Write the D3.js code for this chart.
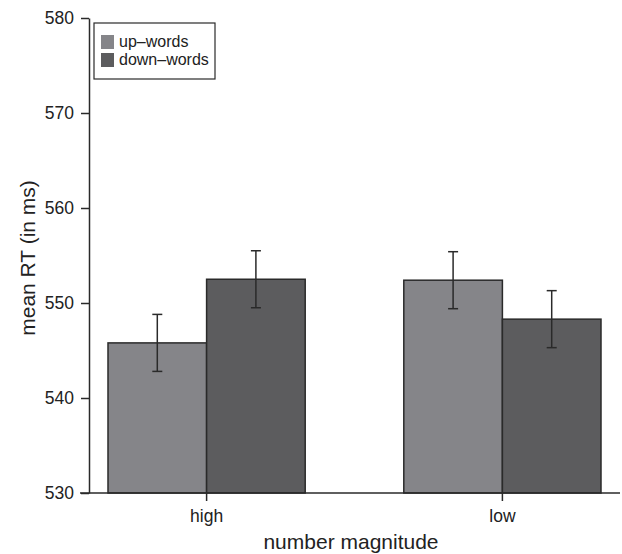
<!DOCTYPE html>
<html>
<head>
<meta charset="utf-8">
<script src="https://cdn.jsdelivr.net/npm/d3@7"></script>
<style>
  body { margin: 0; background: #fff; }
  svg { display: block; font-family: "Liberation Sans", Arial, sans-serif; }
</style>
</head>
<body>
<svg id="chart" width="622" height="554"></svg>
<script>
// mean RT by number magnitude, split by word type
const categories = ["high", "low"];
const series = ["up\u2013words", "down\u2013words"];
const upWords = [545.8, 552.4];
const downWords = [552.5, 548.3];
const upErr = [3.0, 3.0];
const downErr = [3.0, 3.0];
const yTicks = [530, 540, 550, 560, 570, 580];

const COLORS = ["#858589", "#5c5c5e"];
const INK = "#2a2a2a";

const svg = d3.select("#chart");

const x = d3.scaleBand()
    .domain(categories)
    .range([108, 601])
    .paddingInner(1 / 3)
    .paddingOuter(0);

const xSub = d3.scaleBand()
    .domain(series)
    .range([0, x.bandwidth()]);

const y = d3.scaleLinear()
    .domain([530, 580])
    .range([493, 18]);

const rows = categories.map((c, i) => ({
    cat: c,
    vals: [
        { s: series[0], v: upWords[i], e: upErr[i] },
        { s: series[1], v: downWords[i], e: downErr[i] },
    ],
}));

// Bars
const groups = svg.append("g")
    .selectAll("g")
    .data(rows)
    .join("g")
    .attr("transform", d => `translate(${x(d.cat)},0)`);

groups.selectAll("rect")
    .data(d => d.vals)
    .join("rect")
    .attr("x", d => xSub(d.s))
    .attr("y", d => y(d.v))
    .attr("width", xSub.bandwidth())
    .attr("height", d => y(530) - y(d.v))
    .attr("fill", (d, i) => COLORS[i])
    .attr("stroke", INK)
    .attr("stroke-width", 1.5);

// Error bars
const err = groups.selectAll("g.err")
    .data(d => d.vals)
    .join("g")
    .attr("class", "err")
    .attr("transform", d => `translate(${xSub(d.s) + xSub.bandwidth() / 2},0)`);

err.append("line")
    .attr("y1", d => y(d.v - d.e)).attr("y2", d => y(d.v + d.e))
    .attr("stroke", INK).attr("stroke-width", 1.5);
err.append("line")
    .attr("x1", -5).attr("x2", 5)
    .attr("y1", d => y(d.v + d.e)).attr("y2", d => y(d.v + d.e))
    .attr("stroke", INK).attr("stroke-width", 1.5);
err.append("line")
    .attr("x1", -5).attr("x2", 5)
    .attr("y1", d => y(d.v - d.e)).attr("y2", d => y(d.v - d.e))
    .attr("stroke", INK).attr("stroke-width", 1.5);

// Y axis
const yAxis = svg.append("g")
    .attr("transform", "translate(89,0)")
    .call(d3.axisLeft(y).tickValues(yTicks).tickSize(8).tickPadding(7).tickSizeOuter(0));
yAxis.select(".domain").attr("stroke", INK).attr("stroke-width", 1.5);
yAxis.selectAll(".tick line").attr("stroke", INK).attr("stroke-width", 1.5);
yAxis.selectAll(".tick text")
    .attr("fill", "#222")
    .attr("font-size", "17.5px")
    .attr("font-family", "Liberation Sans, Arial, sans-serif");

// X axis
svg.append("line")
    .attr("x1", 80).attr("x2", 620)
    .attr("y1", y(530)).attr("y2", y(530))
    .attr("stroke", INK).attr("stroke-width", 1.5);

const xAxis = svg.append("g")
    .attr("transform", `translate(0,${y(530)})`)
    .call(d3.axisBottom(x).tickSize(8).tickPadding(9).tickSizeOuter(0));
xAxis.select(".domain").remove();
xAxis.selectAll(".tick line").attr("stroke", INK).attr("stroke-width", 1.5);
xAxis.selectAll(".tick text")
    .attr("fill", "#222")
    .attr("font-size", "17.5px")
    .attr("font-family", "Liberation Sans, Arial, sans-serif");

// Axis titles
svg.append("text")
    .attr("x", 351).attr("y", 549)
    .attr("text-anchor", "middle")
    .attr("font-size", "21px")
    .attr("fill", "#222")
    .text("number magnitude");

svg.append("text")
    .attr("transform", "translate(35,258) rotate(-90)")
    .attr("text-anchor", "middle")
    .attr("font-size", "21px")
    .attr("fill", "#222")
    .text("mean RT (in ms)");

// Legend
const legend = svg.append("g").attr("transform", "translate(94,23)");
legend.append("rect")
    .attr("width", 121).attr("height", 56)
    .attr("fill", "#fff")
    .attr("stroke", INK).attr("stroke-width", 1.2);

const item = legend.selectAll("g.item")
    .data(series)
    .join("g")
    .attr("class", "item")
    .attr("transform", (d, i) => `translate(7,${12 + i * 18})`);
item.append("rect")
    .attr("width", 13).attr("height", 14)
    .attr("fill", (d, i) => COLORS[i]);
item.append("text")
    .attr("x", 18).attr("y", 12)
    .attr("font-size", "16px")
    .attr("fill", "#222")
    .text(d => d);
</script>
</body>
</html>
